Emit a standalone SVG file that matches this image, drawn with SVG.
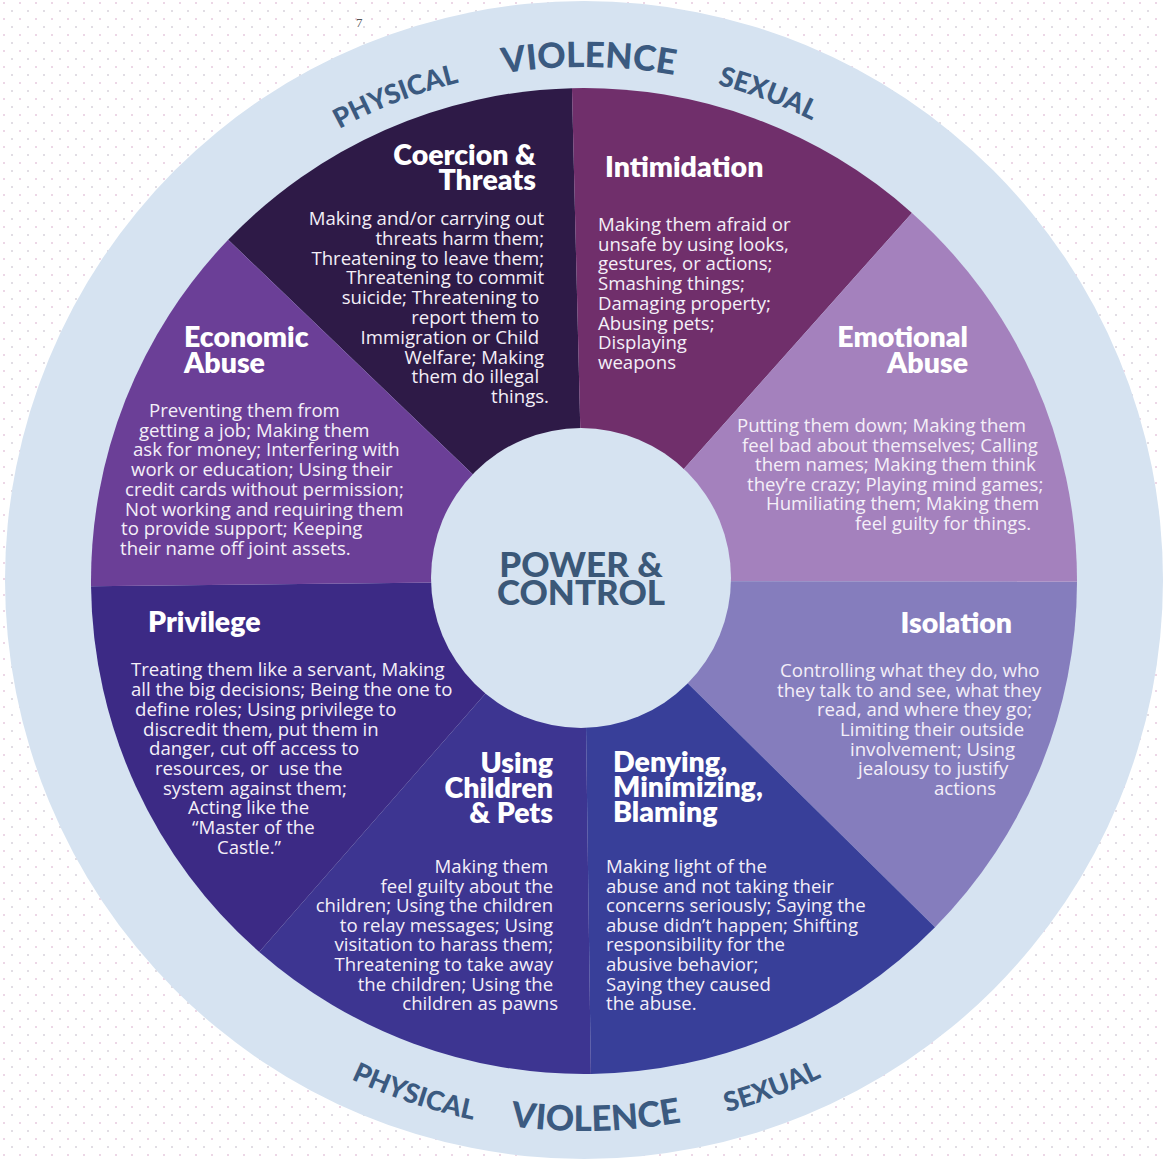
<svg xmlns="http://www.w3.org/2000/svg" width="1163" height="1159" viewBox="0 0 1163 1159">
<defs>
<pattern id="dots" width="16" height="16" patternUnits="userSpaceOnUse">
<rect width="16" height="16" fill="#ffffff"/>
<circle cx="4" cy="3" r="1" fill="#e6cade"/>
<circle cx="12" cy="11" r="1" fill="#d8d2dc"/>
</pattern>
<path id="arcTop" d="M 70 581 A 514 514 0 0 1 1098 581"/>
<path id="arcBot" d="M 34 581 A 550 550 0 0 0 1134 581"/>
</defs>
<style>
.h{font-family:Lato,"Open Sans",sans-serif;font-weight:800;font-size:28.5px;fill:#ffffff}
.b{font-family:"Open Sans","DejaVu Sans",sans-serif;font-size:18.6px;fill:#f4eff8}
.ring{font-family:Lato,"Open Sans",sans-serif;font-weight:900;fill:#3b5a80}
.ctr{font-family:Lato,"Open Sans",sans-serif;font-weight:900;font-size:35px;fill:#3b5878}
.e{text-anchor:end}
.m{text-anchor:middle}
</style>
<rect width="1163" height="1159" fill="url(#dots)"/>
<text x="356" y="27" font-family="Liberation Serif, serif" font-size="13" fill="#555">7</text>
<g id="ring">
<circle cx="584" cy="580" r="579" fill="#d6e3f1"/>
<text class="ring" font-size="35"><textPath href="#arcTop" startOffset="50.3%" text-anchor="middle">VIOLENCE</textPath></text>
<text class="ring" font-size="27"><textPath href="#arcTop" startOffset="38.2%" text-anchor="middle">PHYSICAL</textPath></text>
<text class="ring" font-size="27"><textPath href="#arcTop" startOffset="61.5%" text-anchor="middle">SEXUAL</textPath></text>
<text class="ring" font-size="35"><textPath href="#arcBot" startOffset="50.7%" text-anchor="middle">VIOLENCE</textPath></text>
<text class="ring" font-size="27"><textPath href="#arcBot" startOffset="39.8%" text-anchor="middle">PHYSICAL</textPath></text>
<text class="ring" font-size="27"><textPath href="#arcBot" startOffset="61.3%" text-anchor="middle">SEXUAL</textPath></text>
</g>
<g id="coercion">
<path d="M 584 581 L 228.17 239.78 A 493 493 0 0 1 571.96 88.15 Z" fill="#2e1a47"/>
<text class="h e"><tspan x="536" y="165">Coercion &amp;</tspan><tspan x="536" y="190">Threats</tspan></text>
<text class="b e">
<tspan x="549" y="225">Making and/or carrying out</tspan>
<tspan x="549" y="245">threats harm them;</tspan>
<tspan x="549" y="265">Threatening to leave them;</tspan>
<tspan x="549" y="284">Threatening to commit</tspan>
<tspan x="544" y="304">suicide; Threatening to</tspan>
<tspan x="544" y="324">report them to</tspan>
<tspan x="544" y="344">Immigration or Child</tspan>
<tspan x="549" y="364">Welfare; Making</tspan>
<tspan x="544" y="383">them do illegal</tspan>
<tspan x="549" y="403">things.</tspan>
</text>
</g>
<g id="intimidation">
<path d="M 584 581 L 571.96 88.15 A 493 493 0 0 1 911.96 212.91 Z" fill="#702f6b"/>
<text class="h" x="605" y="177">Intimidation</text>
<text class="b">
<tspan x="598" y="231">Making them afraid or</tspan>
<tspan x="598" y="251">unsafe by using looks,</tspan>
<tspan x="598" y="270">gestures, or actions;</tspan>
<tspan x="598" y="290">Smashing things;</tspan>
<tspan x="598" y="310">Damaging property;</tspan>
<tspan x="598" y="330">Abusing pets;</tspan>
<tspan x="598" y="349">Displaying</tspan>
<tspan x="598" y="369">weapons</tspan>
</text>
</g>
<g id="emotional">
<path d="M 584 581 L 911.96 212.91 A 493 493 0 0 1 1077 581.86 Z" fill="#a481bd"/>
<text class="h e"><tspan x="968" y="347">Emotional</tspan><tspan x="968" y="373">Abuse</tspan></text>
<text class="b">
<tspan x="737" y="432">Putting them down; Making them</tspan>
<tspan x="742" y="452">feel bad about themselves; Calling</tspan>
<tspan x="755" y="471">them names; Making them think</tspan>
<tspan x="747" y="491">they’re crazy; Playing mind games;</tspan>
<tspan x="766" y="510">Humiliating them; Making them</tspan>
<tspan x="855" y="530">feel guilty for things.</tspan>
</text>
</g>
<g id="isolation">
<path d="M 584 581 L 1077 581.86 A 493 493 0 0 1 935.03 927.16 Z" fill="#857dbd"/>
<text class="h e" x="1012" y="633">Isolation</text>
<text class="b">
<tspan x="780" y="677">Controlling what they do, who</tspan>
<tspan x="777" y="697">they talk to and see, what they</tspan>
<tspan x="817" y="716">read, and where they go;</tspan>
<tspan x="840" y="736">Limiting their outside</tspan>
<tspan x="850" y="756">involvement; Using</tspan>
<tspan x="858" y="775">jealousy to justify</tspan>
<tspan x="934" y="795">actions</tspan>
</text>
</g>
<g id="denying">
<path d="M 584 581 L 935.03 927.16 A 493 493 0 0 1 590.88 1073.95 Z" fill="#383f99"/>
<text class="h"><tspan x="613" y="772">Denying,</tspan><tspan x="613" y="797">Minimizing,</tspan><tspan x="613" y="822">Blaming</tspan></text>
<text class="b">
<tspan x="606" y="873">Making light of the</tspan>
<tspan x="606" y="893">abuse and not taking their</tspan>
<tspan x="606" y="912">concerns seriously; Saying the</tspan>
<tspan x="606" y="932">abuse didn’t happen; Shifting</tspan>
<tspan x="606" y="951">responsibility for the</tspan>
<tspan x="606" y="971">abusive behavior;</tspan>
<tspan x="606" y="991">Saying they caused</tspan>
<tspan x="606" y="1010">the abuse.</tspan>
</text>
</g>
<g id="children">
<path d="M 584 581 L 590.88 1073.95 A 493 493 0 0 1 259.27 951.94 Z" fill="#3d3591"/>
<text class="h e"><tspan x="553" y="773">Using</tspan><tspan x="553" y="798">Children</tspan><tspan x="553" y="823">&amp; Pets</tspan></text>
<text class="b e">
<tspan x="553" y="873">Making them</tspan>
<tspan x="558" y="893">feel guilty about the</tspan>
<tspan x="558" y="912">children; Using the children</tspan>
<tspan x="558" y="932">to relay messages; Using</tspan>
<tspan x="558" y="951">visitation to harass them;</tspan>
<tspan x="558" y="971">Threatening to take away</tspan>
<tspan x="558" y="991">the children; Using the</tspan>
<tspan x="558" y="1010">children as pawns</tspan>
</text>
</g>
<g id="privilege">
<path d="M 584 581 L 259.27 951.94 A 493 493 0 0 1 91.03 586.16 Z" fill="#3c2a85"/>
<text class="h" x="148" y="632">Privilege</text>
<text class="b">
<tspan x="131" y="676">Treating them like a servant, Making</tspan>
<tspan x="131" y="696">all the big decisions; Being the one to</tspan>
<tspan x="135" y="716">define roles; Using privilege to</tspan>
<tspan x="143" y="736">discredit them, put them in</tspan>
<tspan x="149" y="755">danger, cut off access to</tspan>
<tspan x="155" y="775" xml:space="preserve">resources, or  use the</tspan>
<tspan x="163" y="795">system against them;</tspan>
<tspan x="188" y="814">Acting like the</tspan>
<tspan x="192" y="834">“Master of the</tspan>
<tspan x="217" y="854">Castle.”</tspan>
</text>
</g>
<g id="economic">
<path d="M 584 581 L 91.03 586.16 A 493 493 0 0 1 228.17 239.78 Z" fill="#6b3f97"/>
<text class="h"><tspan x="184" y="347">Economic</tspan><tspan x="184" y="373">Abuse</tspan></text>
<text class="b">
<tspan x="149" y="417">Preventing them from</tspan>
<tspan x="139" y="437">getting a job; Making them</tspan>
<tspan x="133" y="456">ask for money; Interfering with</tspan>
<tspan x="131" y="476">work or education; Using their</tspan>
<tspan x="125" y="496">credit cards without permission;</tspan>
<tspan x="125" y="516">Not working and requiring them</tspan>
<tspan x="121" y="535">to provide support; Keeping</tspan>
<tspan x="120" y="555">their name off joint assets.</tspan>
</text>
</g>
<g id="center">
<circle cx="581" cy="578" r="150" fill="#d6e3f1"/>
<text class="ctr m"><tspan x="581" y="577">POWER &amp;</tspan><tspan x="581" y="605">CONTROL</tspan></text>
</g>
<g id="connectors"/>
</svg>
